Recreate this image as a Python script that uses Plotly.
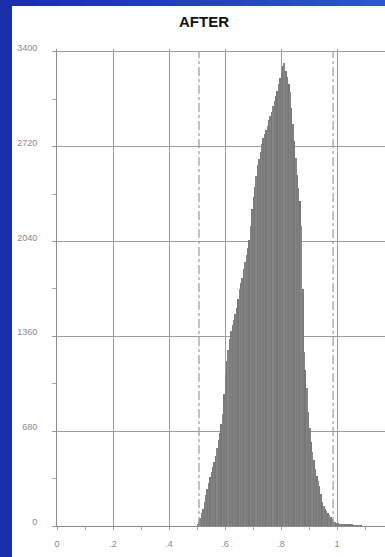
import plotly.graph_objects as go

# ---- data ----
TITLE = "AFTER"
BIN_START = 0.50
BIN_WIDTH = 0.005
COUNTS = [
    10, 30, 55, 90, 125, 170, 220, 265, 310, 350,
    385, 420, 460, 505, 560, 615, 670, 730, 800, 950,
    1080, 1180, 1260, 1340, 1400, 1440, 1480, 1520, 1565, 1630,
    1700, 1740, 1780, 1840, 1890, 1940, 1990, 2050, 2150, 2270,
    2360, 2430, 2510, 2590, 2630, 2680, 2740, 2780, 2810, 2840,
    2870, 2910, 2940, 2970, 3010, 3050, 3080, 3120, 3170, 3210,
    3250, 3300, 3320, 3260, 3220, 3170, 3110, 3000, 2880, 2760,
    2640, 2520, 2420, 2330, 2150, 1700, 1250, 1120, 990, 820,
    700, 600, 530, 470, 410, 360, 320, 285, 230, 170,
    140, 125, 110, 95, 80, 65, 50, 38, 28, 22,
    18, 16, 14, 13, 12, 11, 10, 10, 9, 8,
    8, 7, 6, 6, 5, 5, 4, 3,
]
X_TICKS = [0, 0.2, 0.4, 0.6, 0.8, 1.0]
X_TICK_TEXT = ["0", ".2", ".4", ".6", ".8", "1"]
Y_TICKS = [0, 680, 1360, 2040, 2720, 3400]
Y_TICK_TEXT = ["0", "680", "1360", "2040", "2720", "3400"]
MARKER_LINES = [0.507, 0.986]

centers = [round(BIN_START + BIN_WIDTH * (i + 0.5), 4) for i in range(len(COUNTS))]
shades = ["#808080", "#767676", "#868686", "#7b7b7b"]
colors = [shades[i % 4] for i in range(len(COUNTS))]

fig = go.Figure(go.Bar(
    x=centers, y=COUNTS, width=BIN_WIDTH,
    marker=dict(color=colors, line=dict(width=0)),
    hoverinfo="x+y",
))

W, H = 385, 557
L, R, T, B = 57, 0, 49, 31
pw, ph = W - L - R, H - T - B

def px2paper_x(px):
    return (px - L) / pw

def py2paper_y(py):
    return (H - B - py) / ph

shapes = []
# blue frame: left strip and top strip with gradient
shapes.append(dict(type="rect", xref="paper", yref="paper",
                   x0=px2paper_x(0), x1=px2paper_x(12),
                   y0=py2paper_y(H), y1=py2paper_y(0),
                   fillcolor="rgb(27,47,170)", line=dict(width=0), layer="above"))
nseg = 16
for k in range(nseg):
    t = k / (nseg - 1)
    r = int(27 + (44 - 27) * t)
    g = int(47 + (84 - 47) * t)
    b = int(170 + (216 - 170) * t)
    x0 = 12 + (W - 12) * k / nseg
    x1 = 12 + (W - 12) * (k + 1) / nseg + 1
    shapes.append(dict(type="rect", xref="paper", yref="paper",
                       x0=px2paper_x(x0), x1=px2paper_x(x1),
                       y0=py2paper_y(6), y1=py2paper_y(0),
                       fillcolor=f"rgb({r},{g},{b})", line=dict(width=0), layer="above"))
# dash-dot marker lines
for xv in MARKER_LINES:
    shapes.append(dict(type="line", xref="x", yref="y", x0=xv, x1=xv, y0=0, y1=3400,
                       line=dict(color="#9a9a9a", width=1.2, dash="dashdot"), layer="above"))

fig.update_layout(
    width=W, height=H,
    margin=dict(l=L, r=R, t=T, b=B),
    paper_bgcolor="white", plot_bgcolor="white",
    bargap=0, showlegend=False,
    shapes=shapes,
    annotations=[dict(text=f"<b>{TITLE}</b>", xref="paper", yref="paper",
                      x=px2paper_x(204), y=py2paper_y(21), showarrow=False,
                      xanchor="center", yanchor="middle",
                      font=dict(family="Liberation Sans, Arial", size=15, color="#111"))],
    xaxis=dict(range=[0, 1.1714], tickvals=X_TICKS, ticktext=X_TICK_TEXT,
               showgrid=True, gridcolor="#9c9c9c", gridwidth=1,
               zeroline=False, showline=True, linecolor="#8c8c8c", linewidth=1,
               ticks="outside", ticklen=3, tickcolor="#9c9c9c",
               minor=dict(dtick=0.1, tick0=0, ticks="outside", ticklen=3, tickcolor="#aaa", showgrid=False),
               tickfont=dict(family="Liberation Sans, Arial", size=9, color="#8a8a8a"),
               ticklabelstandoff=6),
    yaxis=dict(range=[0, 3420], tickvals=Y_TICKS, ticktext=Y_TICK_TEXT,
               showgrid=True, gridcolor="#9c9c9c", gridwidth=1,
               zeroline=False, showline=True, linecolor="#8c8c8c", linewidth=1,
               ticks="outside", ticklen=4, tickcolor="#9c9c9c",
               minor=dict(dtick=340, tick0=0, ticks="outside", ticklen=4, tickcolor="#aaa", showgrid=False),
               tickfont=dict(family="Liberation Sans, Arial", size=9, color="#8a8a8a"),
               ticklabelstandoff=13, ticklabelshift=-4),
)

fig.write_html("out.html")
